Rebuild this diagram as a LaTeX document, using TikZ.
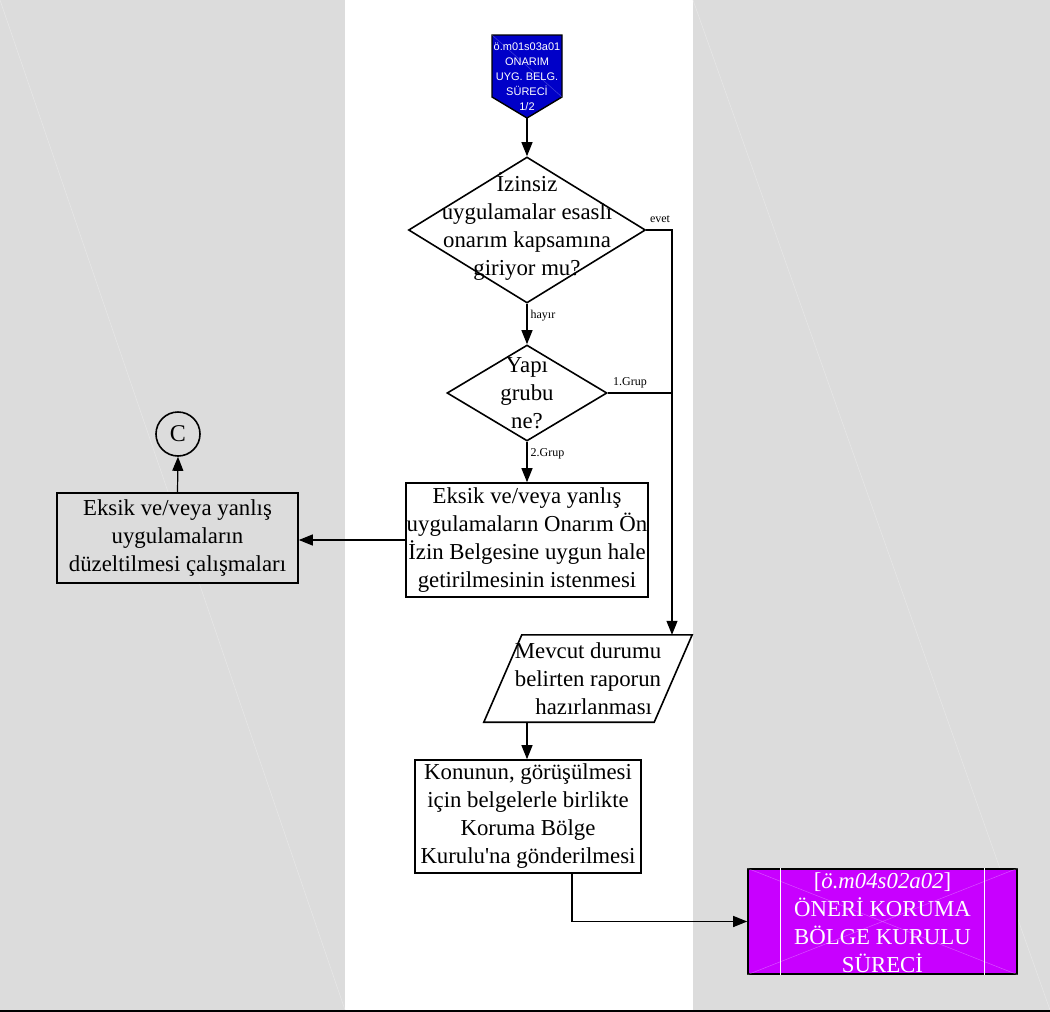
\documentclass[tikz,border=0pt]{standalone}
\usepackage{fontspec}
\setmainfont{Liberation Serif}
\newfontfamily\uisans{Liberation Sans}
\usetikzlibrary{shapes.geometric,arrows.meta}

\definecolor{lanegray}{HTML}{DCDCDC}
\definecolor{lanestreak}{HTML}{E6E6E6}
\definecolor{offblue}{HTML}{0000C8}
\definecolor{submag}{HTML}{C800FF}

\begin{document}
\begin{tikzpicture}[x=1pt, y=-1pt,
    every node/.style={font=\fontsize{22.8}{28}\selectfont},
    flow/.style={draw, line width=1.6pt, align=center, inner sep=0pt},
    decision/.style={flow, diamond},
    txt/.style={align=center, inner sep=0pt},
    small/.style={font=\fontsize{12}{14}\selectfont, inner sep=1pt},
    arr/.style={line width=1.2pt, -{Triangle[length=14pt, width=11pt]}},
    conn/.style={line width=1.2pt}]
\useasboundingbox (0,0) rectangle (1050,1012);

% swim lanes and bottom rule
\fill[lanegray] (0,0) rectangle (345,1010);
\fill[lanegray] (693,0) rectangle (1050,1010);
\draw[lanestreak, line width=0.6pt] (0,0) -- (345,1010);
\draw[lanestreak, line width=0.6pt] (693,0) -- (1050,1010);
\draw[line width=2pt] (0,1010.5) -- (1050,1010.5);

% off-page connector at the top
\draw[line width=1.4pt, fill=offblue] (492,35) -- (562,35) -- (562,97) -- (527,118) -- (492,97) -- cycle;
\draw[white, opacity=0.25, line width=0.5pt] (492,35) -- (562,97);
\coordinate (startTip) at (527,118);
\node[txt, text=white, font=\uisans\fontsize{11}{15}\selectfont] (start) at (527,76.5)
  {ö.m01s03a01\\ONARIM\\UYG. BELG.\\SÜRECİ\\1/2};

% decisions
\node[decision, minimum width=237pt, minimum height=146pt] (q1) at (527,230) {};
\node[txt] (q1text) at (527,227) {İzinsiz\\uygulamalar esaslı\\onarım kapsamına\\giriyor mu?};
\node[decision, minimum width=160pt, minimum height=96pt] (q2) at (527,393) {};
\node[txt] (q2text) at (527,393) {Yapı\\grubu\\ne?};

% process boxes
\node[flow, minimum width=242pt, minimum height=114pt] (fix) at (527,540)
  {Eksik ve/veya yanlış\\uygulamaların Onarım Ön\\İzin Belgesine uygun hale\\getirilmesinin istenmesi};
\node[flow, fill=lanegray, minimum width=241pt, minimum height=90pt] (corr) at (177.5,538)
  {Eksik ve/veya yanlış\\uygulamaların\\düzeltilmesi çalışmaları};
\node[draw, circle, line width=1.6pt, minimum size=44pt, inner sep=0pt,
      font=\fontsize{24}{28}\selectfont] (conC) at (178,434) {C};

% data (parallelogram)
\node[txt, minimum width=170pt, minimum height=87pt] (report) at (588,678.5)
  {Mevcut durumu\\belirten raporun\\\ \ hazırlanması};
\draw[line width=1.6pt] ([xshift=19pt]report.north west) -- ([xshift=19pt]report.north east)
  -- ([xshift=-19pt]report.south east) -- ([xshift=-19pt]report.south west) -- cycle;

\node[flow, minimum width=226pt, minimum height=113pt] (send) at (528,816.5)
  {Konunun, görüşülmesi\\için belgelerle birlikte\\Koruma Bölge\\Kurulu\textquotesingle na gönderilmesi};

% sub-process box
\node[flow, fill=submag, minimum width=269pt, minimum height=105pt] (sub) at (882.5,921.5) {};
\draw[white, opacity=0.3, line width=0.5pt] (sub.north west) -- (sub.south east) (sub.south west) -- (sub.north east);
\draw[white, line width=1.2pt] ([xshift=33pt]sub.north west) -- ([xshift=33pt]sub.south west);
\draw[white, line width=1.2pt] ([xshift=-33pt]sub.north east) -- ([xshift=-33pt]sub.south east);
\node[txt, text=white] (subtext) at (882.5,923)
  {[\textit{ö.m04s02a02}]\\ÖNERİ KORUMA\\BÖLGE KURULU\\SÜRECİ};

% connectors
\coordinate (evetCorner) at (672,230);
\draw[arr] (startTip) -- (q1.north);
\draw[arr] (q1.south) -- (q2.north) node[small, pos=0.3, right=2pt] {hayır};
\draw[arr] (q1.east) -- (evetCorner) -- (evetCorner |- report.north);
\node[small] (evetlbl) at (660,219) {evet};
\draw[conn] (q2.east) -- (q2.east -| evetCorner);
\node[small] (grup1) at (630,383) {1.Grup};
\draw[arr] (q2.south) -- (fix.north) node[small, pos=0.3, right=2pt] {2.Grup};
\draw[arr] (fix.west) -- (fix.west -| corr.east);
\draw[arr] (corr.north) -- (conC.south);
\draw[arr] (report.south -| q2.south) -- (send.north -| q2.south);
\draw[arr] ([xshift=44pt]send.south) |- (sub.west);
\end{tikzpicture}
\end{document}
